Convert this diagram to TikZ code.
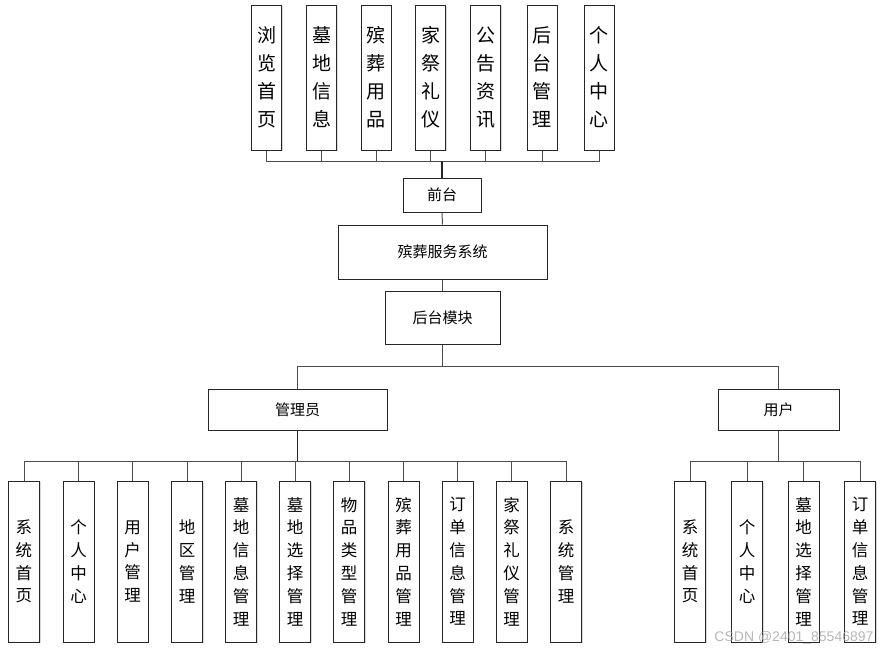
\documentclass[tikz,border=0pt]{standalone}
\usepackage{fontspec}
\newfontfamily\cjk{Noto Sans CJK SC}
\newfontfamily\wmfont{Liberation Sans}
\usetikzlibrary{shadows}
\begin{document}
\begin{tikzpicture}[x=1pt,y=-1pt,
  box/.style={draw=black!85,line width=1pt,fill=white,inner sep=0pt,align=center,
    drop shadow={shadow xshift=1.2pt,shadow yshift=-1.2pt,fill=black!25,opacity=0.6}},
  topbox/.style={box,minimum width=30pt,minimum height=145pt,font=\cjk\fontsize{19}{28}\selectfont},
  midbox/.style={box,font=\cjk\fontsize{15}{18}\selectfont},
  botbox/.style={box,minimum width=31pt,minimum height=161pt,font=\cjk\fontsize{16.5}{22.8}\selectfont},
  conn/.style={draw=black!70,line width=1pt}]
\useasboundingbox (0,0) rectangle (880,654);
\fill[white] (0,0) rectangle (880,654);
% top row
\node[topbox] (t1) at (266.5,77.5) {浏\\览\\首\\页};
\node[topbox] (t2) at (321.5,77.5) {墓\\地\\信\\息};
\node[topbox] (t3) at (376,77.5) {殡\\葬\\用\\品};
\node[topbox] (t4) at (430.5,77.5) {家\\祭\\礼\\仪};
\node[topbox] (t5) at (485.5,77.5) {公\\告\\资\\讯};
\node[topbox] (t6) at (542,77.5) {后\\台\\管\\理};
\node[topbox] (t7) at (599,77.5) {个\\人\\中\\心};
% middle
\node[midbox,minimum width=78pt,minimum height=34pt] (qt) at (442,195) {前台};
\node[midbox,minimum width=209pt,minimum height=54pt] (sys) at (442.5,252) {殡葬服务系统};
\node[midbox,minimum width=115pt,minimum height=53pt] (ht) at (442.5,317.5) {后台模块};
\node[midbox,minimum width=179pt,minimum height=41pt] (gly) at (297.5,409.5) {管理员};
\node[midbox,minimum width=121pt,minimum height=41pt] (yh) at (778.5,409.5) {用户};
% admin children
\node[botbox] (a1) at (24,561.5) {系\\统\\首\\页};
\node[botbox] (a2) at (78.5,561.5) {个\\人\\中\\心};
\node[botbox] (a3) at (132.5,561.5) {用\\户\\管\\理};
\node[botbox] (a4) at (187,561.5) {地\\区\\管\\理};
\node[botbox] (a5) at (241,561.5) {墓\\地\\信\\息\\管\\理};
\node[botbox] (a6) at (295,561.5) {墓\\地\\选\\择\\管\\理};
\node[botbox] (a7) at (349,561.5) {物\\品\\类\\型\\管\\理};
\node[botbox] (a8) at (403.5,561.5) {殡\\葬\\用\\品\\管\\理};
\node[botbox] (a9) at (457.5,561.5) {订\\单\\信\\息\\管\\理};
\node[botbox] (a10) at (511.5,561.5) {家\\祭\\礼\\仪\\管\\理};
\node[botbox] (a11) at (566,561.5) {系\\统\\管\\理};
% user children
\node[botbox] (u1) at (690,561.5) {系\\统\\首\\页};
\node[botbox] (u2) at (747,561.5) {个\\人\\中\\心};
\node[botbox] (u3) at (803.5,561.5) {墓\\地\\选\\择\\管\\理};
\node[botbox] (u4) at (860,561.5) {订\\单\\信\\息\\管\\理};
% buses
\coordinate (bt) at (442,161);
\coordinate (bm) at (442.5,366);
\coordinate (ba) at (297.5,461);
\coordinate (bu) at (778.5,461);
% connectors
\foreach \n in {t1,t2,t3,t4,t5,t6,t7} \draw[conn] (\n.south) |- (bt);
\draw[conn,line width=1.5pt,draw=black!85] (bt) -- (qt.north);
\draw[conn] (qt.south) -- (sys.north);
\draw[conn] (sys.south) -- (ht.north);
\draw[conn] (ht.south) -- (bm);
\draw[conn] (gly.north) |- (bm);
\draw[conn] (yh.north) |- (bm);
\draw[conn,line width=1.5pt,draw=black!85] (gly.south) -- (ba);
\foreach \n in {a1,a2,a3,a4,a5,a6,a7,a8,a9,a10,a11} \draw[conn] (\n.north) |- (ba);
\draw[conn] (yh.south) -- (bu);
\foreach \n in {u1,u2,u3,u4} \draw[conn] (\n.north) |- (bu);
% watermark
\node[text=black!35,opacity=0.8,font=\wmfont\fontsize{14}{16}\selectfont,anchor=east] (wm) at (877,638) {CSDN @2401\_85546897};
\end{tikzpicture}
\end{document}
